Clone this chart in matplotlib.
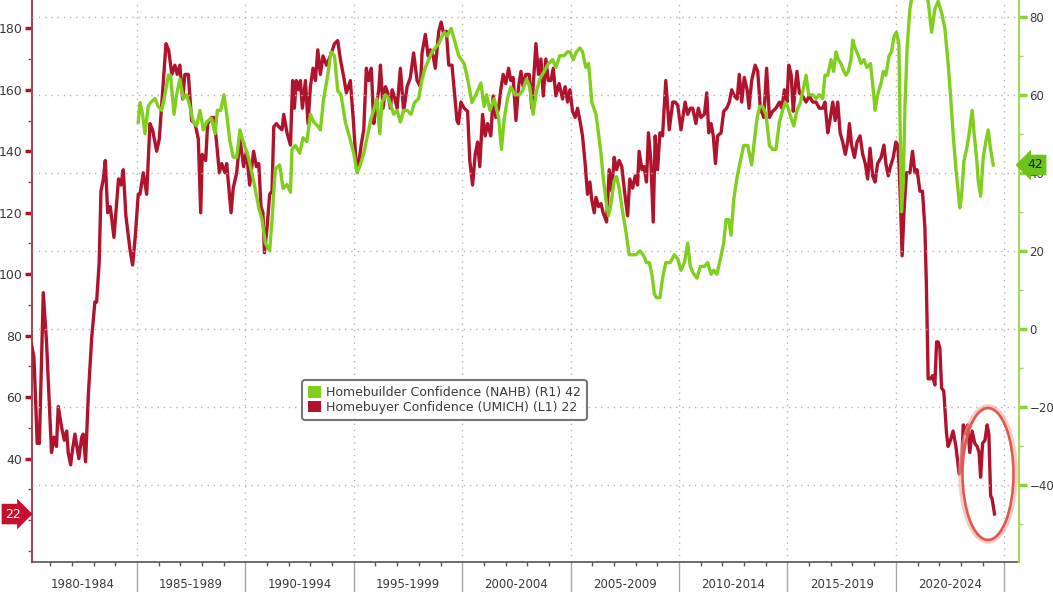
import matplotlib.pyplot as plt
from matplotlib.patches import Patch, Ellipse
from matplotlib.ticker import MultipleLocator, FixedLocator

# UMICH homebuyer confidence (left axis) - decimal year, value
umich_years = [
    1980.14, 1980.25, 1980.40, 1980.50, 1980.68, 1980.83, 1981.06, 1981.17, 1981.29, 1981.37,
    1981.53, 1981.65, 1981.76, 1981.83, 1981.94, 1982.03, 1982.14, 1982.32, 1982.45, 1982.52,
    1982.63, 1982.76, 1982.91, 1983.06, 1983.14, 1983.26, 1983.34, 1983.45, 1983.54, 1983.65,
    1983.77, 1983.94, 1984.03, 1984.15, 1984.26, 1984.37, 1984.49, 1984.68, 1984.80, 1984.92,
    1985.06, 1985.14, 1985.29, 1985.45, 1985.60, 1985.72, 1985.91, 1986.03, 1986.17, 1986.34,
    1986.46, 1986.61, 1986.75, 1986.86, 1986.98, 1987.11, 1987.21, 1987.37, 1987.52, 1987.68,
    1987.83, 1987.94, 1988.01, 1988.17, 1988.26, 1988.44, 1988.55, 1988.67, 1988.80, 1988.91,
    1989.06, 1989.14, 1989.34, 1989.44, 1989.60, 1989.75, 1989.92, 1990.05, 1990.20, 1990.38,
    1990.51, 1990.62, 1990.72, 1990.81, 1990.88, 1991.00, 1991.12, 1991.23, 1991.31, 1991.43,
    1991.54, 1991.69, 1991.77, 1991.92, 1992.08, 1992.18, 1992.26, 1992.35, 1992.46, 1992.54,
    1992.63, 1992.77, 1992.89, 1993.00, 1993.12, 1993.23, 1993.34, 1993.46, 1993.58, 1993.74,
    1993.92, 1994.11, 1994.26, 1994.38, 1994.54, 1994.66, 1994.84, 1994.97, 1995.12, 1995.23,
    1995.34, 1995.46, 1995.58, 1995.69, 1995.81, 1995.92, 1996.03, 1996.15, 1996.23, 1996.35,
    1996.46, 1996.57, 1996.69, 1996.77, 1996.87, 1997.00, 1997.15, 1997.30, 1997.46, 1997.61,
    1997.76, 1997.92, 1998.07, 1998.15, 1998.30, 1998.43, 1998.53, 1998.66, 1998.76, 1998.92,
    1999.03, 1999.15, 1999.27, 1999.38, 1999.53, 1999.76, 1999.83, 1999.94, 2000.09, 2000.25,
    2000.35, 2000.48, 2000.60, 2000.71, 2000.81, 2000.94, 2001.06, 2001.17, 2001.32, 2001.43,
    2001.55, 2001.68, 2001.78, 2001.89, 2002.01, 2002.14, 2002.24, 2002.35, 2002.48, 2002.60,
    2002.71, 2002.81, 2002.94, 2003.09, 2003.21, 2003.32, 2003.40, 2003.52, 2003.63, 2003.74,
    2003.86, 2003.97, 2004.09, 2004.20, 2004.32, 2004.47, 2004.63, 2004.75, 2004.86, 2004.97,
    2005.09, 2005.21, 2005.32, 2005.43, 2005.55, 2005.67, 2005.78, 2005.89, 2005.98, 2006.09,
    2006.17, 2006.29, 2006.40, 2006.50, 2006.66, 2006.78, 2006.90, 2007.01, 2007.12, 2007.24,
    2007.36, 2007.52, 2007.63, 2007.73, 2007.86, 2007.98, 2008.09, 2008.16, 2008.29, 2008.39,
    2008.50, 2008.59, 2008.70, 2008.81, 2008.90, 2009.01, 2009.12, 2009.24, 2009.39, 2009.55,
    2009.71, 2009.82, 2009.94, 2010.09, 2010.28, 2010.40, 2010.52, 2010.63, 2010.78, 2010.89,
    2011.01, 2011.17, 2011.28, 2011.37, 2011.48, 2011.58, 2011.68, 2011.78, 2011.94, 2012.06,
    2012.20, 2012.32, 2012.43, 2012.55, 2012.68, 2012.78, 2012.89, 2013.01, 2013.14, 2013.23,
    2013.35, 2013.51, 2013.63, 2013.75, 2013.91, 2014.04, 2014.17, 2014.32, 2014.47, 2014.63,
    2014.74, 2014.86, 2014.98, 2015.06, 2015.17, 2015.27, 2015.35, 2015.44, 2015.55, 2015.70,
    2015.86, 2016.01, 2016.17, 2016.32, 2016.47, 2016.63, 2016.73, 2016.86, 2016.96, 2017.09,
    2017.20, 2017.32, 2017.43, 2017.55, 2017.67, 2017.78, 2017.86, 2017.96, 2018.09, 2018.21,
    2018.35, 2018.47, 2018.59, 2018.70, 2018.81, 2018.93, 2019.04, 2019.16, 2019.32, 2019.45,
    2019.54, 2019.65, 2019.75, 2019.88, 2020.00, 2020.09, 2020.15, 2020.22, 2020.29, 2020.38,
    2020.49, 2020.65, 2020.77, 2020.88, 2020.98, 2021.11, 2021.23, 2021.34, 2021.41, 2021.49,
    2021.60, 2021.69, 2021.80, 2021.88, 2021.95, 2022.03, 2022.11, 2022.21, 2022.34, 2022.41,
    2022.52, 2022.64, 2022.77, 2022.92, 2023.03, 2023.11, 2023.23, 2023.31, 2023.41, 2023.52,
    2023.64, 2023.75, 2023.84, 2023.91, 2024.00, 2024.11, 2024.21, 2024.29, 2024.37, 2024.44,
    2024.55,
]
umich_vals = [
    77, 73, 45, 45, 94, 78, 42, 47, 44, 57,
    50, 46, 49, 42, 38, 43, 48, 40, 47, 48,
    39, 61, 79, 91, 91, 104, 127, 131, 137, 120,
    122, 112, 120, 131, 129, 134, 119, 108, 103, 112,
    126, 126, 133, 126, 149, 147, 140, 144, 158, 175,
    173, 165, 168, 165, 168, 157, 165, 165, 150, 149,
    144, 120, 139, 137, 149, 151, 151, 143, 133, 136,
    133, 136, 120, 128, 133, 144, 135, 140, 129, 140,
    135, 136, 122, 120, 107, 115, 126, 127, 148, 149,
    148, 147, 152, 146, 142, 163, 154, 163, 160, 163,
    154, 163, 149, 161, 167, 163, 173, 165, 171, 168,
    171, 175, 176, 170, 164, 159, 163, 151, 135, 136,
    142, 147, 167, 163, 167, 149, 154, 160, 168, 154,
    161, 159, 154, 160, 158, 154, 167, 153, 161, 164,
    172, 163, 161, 172, 178, 171, 173, 171, 167, 179,
    182, 178, 179, 168, 168, 150, 149, 156, 154, 153,
    137, 129, 139, 143, 135, 152, 145, 149, 145, 158,
    151, 154, 160, 165, 162, 167, 163, 164, 150, 161,
    166, 161, 165, 165, 154, 166, 175, 165, 170, 158,
    170, 163, 163, 167, 158, 162, 157, 161, 156, 160,
    153, 151, 154, 150, 145, 136, 126, 130, 124, 120,
    125, 122, 123, 120, 117, 134, 127, 138, 134, 137,
    135, 125, 119, 131, 128, 132, 129, 140, 134, 135,
    130, 146, 137, 117, 145, 134, 146, 145, 163, 147,
    156, 156, 155, 147, 156, 152, 154, 154, 149, 154,
    151, 152, 159, 146, 149, 145, 136, 145, 146, 153,
    154, 156, 160, 158, 157, 165, 156, 164, 160, 154,
    163, 168, 166, 154, 151, 167, 151, 153, 154, 156,
    154, 160, 156, 168, 165, 153, 160, 166, 159, 158,
    156, 158, 156, 156, 154, 154, 156, 146, 150, 156,
    150, 156, 146, 143, 139, 143, 149, 142, 138, 143,
    145, 139, 136, 131, 141, 132, 130, 136, 138, 142,
    136, 132, 135, 138, 143, 142, 135, 122, 106, 121,
    133, 133, 140, 133, 134, 127, 127, 115, 96, 66,
    66, 67, 64, 78, 78, 76, 63, 62, 48, 44,
    46, 49, 44, 35, 38, 51, 48, 51, 42, 49,
    45, 44, 42, 34, 45, 46, 51, 48, 28, 27,
    22,
]

# NAHB homebuilder confidence (right axis)
nahb_years = [
    1985.06, 1985.14, 1985.26, 1985.37, 1985.52, 1985.63, 1985.83, 1985.98, 1986.14, 1986.29,
    1986.45, 1986.55, 1986.71, 1986.83, 1986.98, 1987.14, 1987.29, 1987.44, 1987.60, 1987.75,
    1987.91, 1988.06, 1988.21, 1988.44, 1988.60, 1988.71, 1988.86, 1989.01, 1989.14, 1989.29,
    1989.44, 1989.60, 1989.75, 1989.90, 1990.14, 1990.38, 1990.62, 1990.77, 1990.92, 1991.12,
    1991.23, 1991.38, 1991.58, 1991.74, 1991.92, 1992.08, 1992.15, 1992.31, 1992.51, 1992.66,
    1992.84, 1993.00, 1993.15, 1993.34, 1993.46, 1993.61, 1993.80, 1993.95, 1994.11, 1994.26,
    1994.41, 1994.61, 1994.81, 1995.00, 1995.15, 1995.30, 1995.46, 1995.61, 1995.80, 1995.92,
    1996.07, 1996.20, 1996.30, 1996.46, 1996.61, 1996.84, 1997.00, 1997.15, 1997.30, 1997.46,
    1997.64, 1997.80, 1997.99, 1998.15, 1998.30, 1998.46, 1998.61, 1998.76, 1998.92, 1999.07,
    1999.18, 1999.30, 1999.49, 1999.64, 1999.84, 2000.09, 2000.25, 2000.45, 2000.63, 2000.86,
    2001.01, 2001.12, 2001.28, 2001.48, 2001.68, 2001.81, 2001.94, 2002.09, 2002.24, 2002.44,
    2002.63, 2002.78, 2002.97, 2003.12, 2003.27, 2003.43, 2003.58, 2003.78, 2003.98, 2004.17,
    2004.32, 2004.50, 2004.70, 2004.86, 2004.97, 2005.12, 2005.27, 2005.43, 2005.55, 2005.70,
    2005.83, 2005.98, 2006.17, 2006.29, 2006.40, 2006.50, 2006.63, 2006.75, 2006.86, 2007.01,
    2007.12, 2007.24, 2007.40, 2007.55, 2007.70, 2007.86, 2008.01, 2008.20, 2008.35, 2008.50,
    2008.63, 2008.75, 2008.86, 2008.96, 2009.12, 2009.24, 2009.39, 2009.60, 2009.78, 2009.94,
    2010.09, 2010.25, 2010.40, 2010.52, 2010.68, 2010.83, 2010.98, 2011.17, 2011.32, 2011.48,
    2011.60, 2011.75, 2011.91, 2012.06, 2012.17, 2012.29, 2012.40, 2012.52, 2012.68, 2012.83,
    2012.98, 2013.17, 2013.35, 2013.47, 2013.60, 2013.72, 2013.86, 2014.01, 2014.17, 2014.32,
    2014.47, 2014.63, 2014.78, 2014.90, 2015.01, 2015.17, 2015.29, 2015.44, 2015.60, 2015.75,
    2015.86, 2015.98, 2016.17, 2016.32, 2016.47, 2016.63, 2016.73, 2016.86, 2017.01, 2017.13,
    2017.24, 2017.35, 2017.47, 2017.60, 2017.70, 2017.81, 2017.93, 2018.01, 2018.12, 2018.27,
    2018.39, 2018.52, 2018.67, 2018.83, 2018.98, 2019.04, 2019.16, 2019.32, 2019.42, 2019.54,
    2019.69, 2019.80, 2019.92, 2020.03, 2020.14, 2020.26, 2020.34, 2020.42, 2020.52, 2020.65,
    2020.77, 2020.92, 2021.11, 2021.34, 2021.49, 2021.65, 2021.80, 2021.95, 2022.11, 2022.26,
    2022.41, 2022.52, 2022.64, 2022.77, 2022.88, 2022.95, 2023.03, 2023.14, 2023.26, 2023.38,
    2023.52, 2023.61, 2023.72, 2023.80, 2023.91, 2024.03, 2024.15, 2024.26, 2024.37, 2024.49,
]
nahb_vals = [
    53, 58, 55, 50, 57, 58, 59, 57, 56, 60,
    65, 65, 55, 60, 64, 59, 60, 57, 53, 52,
    56, 51, 53, 54, 50, 56, 56, 60, 55, 48,
    44, 44, 51, 48, 44, 38, 31, 28, 22, 20,
    28, 41, 42, 36, 37, 35, 46, 47, 45, 49,
    48, 55, 53, 52, 51, 59, 65, 71, 70, 61,
    60, 53, 49, 45, 40, 42, 45, 49, 54, 56,
    59, 50, 58, 60, 59, 55, 56, 53, 56, 56,
    55, 58, 59, 64, 67, 69, 71, 72, 73, 75,
    76, 75, 77, 74, 70, 68, 64, 58, 60, 63,
    57, 60, 56, 59, 54, 46, 54, 59, 62, 60,
    60, 61, 64, 62, 55, 61, 64, 66, 68, 69,
    67, 70, 70, 71, 71, 69, 71, 72, 71, 67,
    68, 58, 55, 50, 45, 39, 33, 29, 32, 38,
    39, 36, 30, 25, 19, 19, 19, 20, 19, 17,
    17, 14, 9, 8, 8, 13, 17, 17, 19, 18,
    15, 17, 22, 16, 14, 13, 16, 16, 17, 14,
    15, 14, 18, 22, 28, 28, 24, 33, 39, 43,
    47, 47, 42, 48, 54, 57, 57, 55, 47, 46,
    46, 53, 56, 58, 57, 54, 52, 56, 58, 62,
    65, 60, 60, 59, 60, 59, 65, 65, 69, 66,
    71, 69, 68, 66, 65, 66, 69, 74, 72, 70,
    68, 69, 67, 68, 60, 56, 60, 63, 66, 65,
    70, 71, 75, 76, 73, 30, 37, 57, 72, 82,
    86, 89, 85, 86, 84, 76, 82, 84, 81, 77,
    68, 60, 50, 41, 35, 31, 34, 43, 46, 50,
    56, 50, 44, 38, 34, 44, 48, 51, 46, 42,
]

periods = ['1980-1984', '1985-1989', '1990-1994', '1995-1999', '2000-2004',
           '2005-2009', '2010-2014', '2015-2019', '2020-2024']
period_starts = [1980, 1985, 1990, 1995, 2000, 2005, 2010, 2015, 2020]

RED = '#b0142d'
GREEN = '#80cf1f'
GRID = '#b4b4b4'
TXT = '#3a3a3a'

fig = plt.figure(figsize=(10.53, 5.92), dpi=100)
fig.patch.set_facecolor('white')
ax = fig.add_axes([32 / 1053, 30.3 / 592, 987 / 1053, 561.7 / 592])
ax2 = ax.twinx()

ax.plot(umich_years, umich_vals, color=RED, lw=2.4, solid_joinstyle='round', zorder=3)
ax2.plot(nahb_years, nahb_vals, color=GREEN, lw=2.4, solid_joinstyle='round', zorder=3)

ax.set_xlim(1980.16, 2025.68)
ax.set_ylim(6.5, 189.2)
ax2.set_ylim(-59.66, 84.28)

# x axis: period dividers + yearly minor ticks
ax.set_xticks(list(range(1985, 2026, 5)))
ax.set_xticklabels([])
ax.xaxis.set_minor_locator(FixedLocator([y for y in range(1981, 2026) if y % 5]))
ax.tick_params(axis='x', which='major', length=22, width=1, color='#a8a8a8')
ax.tick_params(axis='x', which='minor', length=3, width=1, color='#555555')
ax.grid(axis='x', which='major', color=GRID, linestyle=(0, (1, 3.5)), lw=1)
for start, lab in zip(period_starts, periods):
    ax.text(start + 2.5, -0.041, lab, transform=ax.get_xaxis_transform(),
            ha='center', va='center', fontsize=8.5, color=TXT)

# left axis
ax.set_yticks(list(range(40, 181, 20)))
ax.yaxis.set_minor_locator(MultipleLocator(10))
ax.tick_params(axis='y', which='major', length=5, width=2.5, color=RED,
               labelsize=9, labelcolor=TXT, pad=2)
ax.tick_params(axis='y', which='minor', length=3, width=1, color='#8a4a55')

# right axis
ax2.set_yticks(list(range(-40, 81, 20)))
ax2.yaxis.set_minor_locator(MultipleLocator(10))
ax2.tick_params(axis='y', which='major', length=6, width=2.5, color='#8cd13a',
                labelsize=8.5, labelcolor=TXT, pad=1.5)
ax2.tick_params(axis='y', which='minor', length=3, width=1, color='#9ccf63')
ax2.grid(axis='y', which='major', color=GRID, linestyle=(0, (1, 3.5)), lw=1, zorder=0)

for s in ['top', 'right']:
    ax.spines[s].set_visible(False)
for s in ['top', 'left', 'bottom']:
    ax2.spines[s].set_visible(False)
ax.spines['left'].set_color('#a04a55')
ax.spines['left'].set_linewidth(1.5)
ax.spines['bottom'].set_color('#555555')
ax.spines['bottom'].set_linewidth(1.2)
ax2.spines['right'].set_color('#a6d65a')
ax2.spines['right'].set_linewidth(1.5)

# last value badges
ax.text(-0.011, umich_vals[-1], f'{umich_vals[-1]:.0f}', transform=ax.get_yaxis_transform(),
        ha='right', va='center', fontsize=9, color='white', clip_on=False, zorder=10,
        bbox=dict(boxstyle='rarrow,pad=0.3', fc='#c8102e', ec='none'))
ax2.text(1.008, nahb_vals[-1], f'{nahb_vals[-1]:.0f}', transform=ax2.get_yaxis_transform(),
         ha='left', va='center', fontsize=9, color='#1e1e1e', clip_on=False, zorder=10,
         bbox=dict(boxstyle='larrow,pad=0.3', fc='#6cc41a', ec='none'))

# legend
handles = [Patch(fc=GREEN, ec='none', label=f'Homebuilder Confidence (NAHB) (R1) {nahb_vals[-1]:.0f}'),
           Patch(fc=RED, ec='none', label=f'Homebuyer Confidence (UMICH) (L1) {umich_vals[-1]:.0f}')]
leg = fig.legend(handles=handles, loc='upper left', bbox_to_anchor=(302 / 1053, 1 - 380 / 592),
                 fontsize=9, frameon=True, fancybox=True, edgecolor='#555555',
                 handlelength=1.0, handleheight=1.0, handletextpad=0.4, borderpad=0.5,
                 labelspacing=0.1, borderaxespad=0)
leg.get_frame().set_linewidth(1.5)
for t in leg.get_texts():
    t.set_color(TXT)

# highlight circle around the latest readings
fig.add_artist(Ellipse((988 / 1053, 1 - 474 / 592), 54 / 1053, 134 / 592, transform=fig.transFigure,
                       fill=False, ec='#f2a8a0', lw=4, alpha=0.6))
fig.add_artist(Ellipse((988 / 1053, 1 - 474 / 592), 51 / 1053, 132 / 592, transform=fig.transFigure,
                       fill=False, ec='#e0574b', lw=1.8))

fig.savefig('out.png', dpi=100)
